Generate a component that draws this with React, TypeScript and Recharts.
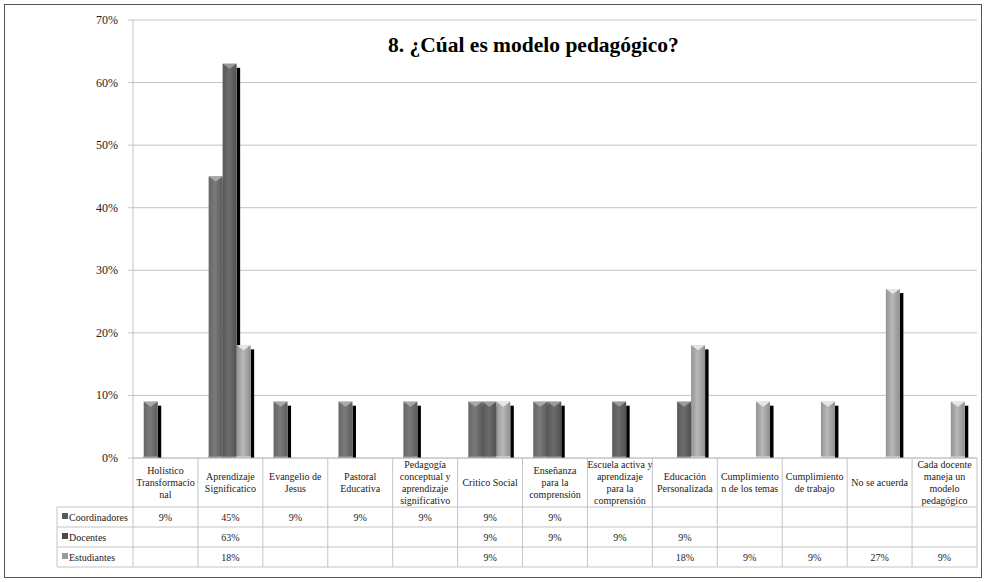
import React from 'react';
import { BarChart, Bar, XAxis, YAxis, CartesianGrid } from 'recharts';

const categories = [
  'Holistico\nTransformacio\nnal',
  'Aprendizaje\nSignificatico',
  'Evangelio de\nJesus',
  'Pastoral\nEducativa',
  'Pedagogía\nconceptual y\naprendizaje\nsignificativo',
  'Critico Social',
  'Enseñanza\npara la\ncomprensión',
  'Escuela activa y\naprendizaje\npara la\ncomprensión',
  'Educación\nPersonalizada',
  'Cumplimiento\nn de los temas',
  'Cumplimiento\nde trabajo',
  'No se acuerda',
  'Cada docente\nmaneja un\nmodelo\npedagógico',
];

const coordinadores: (number | null)[] = [9, 45, 9, 9, 9, 9, 9, null, null, null, null, null, null];
const docentes: (number | null)[] = [null, 63, null, null, null, 9, 9, 9, 9, null, null, null, null];
const estudiantes: (number | null)[] = [null, 18, null, null, null, 9, null, null, 18, 9, 9, 27, 9];

const seriesNames = ['Coordinadores', 'Docentes', 'Estudiantes'];
const seriesValues = [coordinadores, docentes, estudiantes];
const yTicks = [0, 10, 20, 30, 40, 50, 60, 70];
const title = '8. ¿Cúal es modelo pedagógico?';

const data = categories.map((c, i) => ({
  name: c,
  Coordinadores: coordinadores[i],
  Docentes: docentes[i],
  Estudiantes: estudiantes[i],
}));

// layout
const W = 986;
const H = 582;
const PLOT_LEFT = 133;
const PLOT_RIGHT = 977;
const PLOT_TOP = 20;
const PLOT_BOTTOM = 458;
const HEADER_BOTTOM = 507;
const ROW_H = 20;
const LEGEND_LEFT = 57;
const FONT = '"Liberation Serif", "DejaVu Serif", serif';
const LINE = '#c4c4c4';
const TXT = { fontFamily: FONT, fontSize: 10 };

const palettes: Record<string, { l: string; m: string; r: string; top: string; bottom: string; legend: string }> = {
  Coordinadores: { l: '#666666', m: '#7a7a7a', r: '#5c5c5c', top: '#a8a8a8', bottom: '#8a8a8a', legend: '#5a5a5a' },
  Docentes: { l: '#585858', m: '#6c6c6c', r: '#515151', top: '#9a9a9a', bottom: '#7e7e7e', legend: '#4a4a4a' },
  Estudiantes: { l: '#939393', m: '#b8b8b8', r: '#8e8e8e', top: '#e6e6e6', bottom: '#c4c4c4', legend: '#9a9a9a' },
};

const Bar3D = (props: any) => {
  const { x, y, width, height, dataKey, index } = props;
  if (height == null || !(height > 0) || isNaN(y)) return null;
  const p = palettes[dataKey as string];
  const gid = `g-${dataKey}-${index}`;
  return (
    <g>
      <defs>
        <linearGradient id={gid} x1="0" y1="0" x2="1" y2="0">
          <stop offset="0" stopColor={p.l} />
          <stop offset="0.45" stopColor={p.m} />
          <stop offset="1" stopColor={p.r} />
        </linearGradient>
      </defs>
      <rect x={x + width} y={y + 4} width={3.5} height={height - 4} fill="#000" />
      <rect x={x} y={y} width={width} height={height} fill={`url(#${gid})`} />
      <polygon
        points={`${x},${y} ${x + width},${y} ${x + width / 2},${y + 5}`}
        fill={p.top}
      />
      <rect x={x} y={y + height - 2} width={width} height={2} fill={p.bottom} />
    </g>
  );
};

const YTick = (props: any) => {
  const { x, y, payload } = props;
  return (
    <text
      x={x}
      y={y}
      textAnchor="end"
      dominantBaseline="central"
      style={{ fontFamily: FONT, fontSize: 12 }}
      fill="#222"
    >
      {`${payload.value}%`}
    </text>
  );
};

const TableTick = (props: any) => {
  const { x, payload } = props;
  const i: number = payload?.index ?? props.index ?? 0;
  const bw = (PLOT_RIGHT - PLOT_LEFT) / categories.length;
  const left = x - bw / 2;
  const right = x + bw / 2;
  const lines = categories[i].split('\n');
  const lh = 12;
  const headerMid = (PLOT_BOTTOM + HEADER_BOTTOM) / 2;
  const startY = headerMid - ((lines.length - 1) * lh) / 2;
  const tableBottom = HEADER_BOTTOM + ROW_H * 3;
  return (
    <g>
      {i === 0 && (
        <g>
          <line x1={left} y1={PLOT_BOTTOM} x2={left} y2={tableBottom} stroke={LINE} />
          <line x1={LEGEND_LEFT} y1={HEADER_BOTTOM} x2={LEGEND_LEFT} y2={tableBottom} stroke={LINE} />
          {[0, 1, 2, 3].map((r) => (
            <line
              key={r}
              x1={LEGEND_LEFT}
              y1={HEADER_BOTTOM + r * ROW_H}
              x2={left}
              y2={HEADER_BOTTOM + r * ROW_H}
              stroke={LINE}
            />
          ))}
          {seriesNames.map((s, r) => (
            <g key={s}>
              <rect
                x={LEGEND_LEFT + 5}
                y={HEADER_BOTTOM + r * ROW_H + ROW_H / 2 - 4}
                width={6}
                height={6}
                fill={palettes[s].legend}
              />
              <text
                x={LEGEND_LEFT + 12}
                y={HEADER_BOTTOM + r * ROW_H + ROW_H / 2}
                dominantBaseline="central"
                style={TXT}
                fill="#222"
              >
                {s}
              </text>
            </g>
          ))}
        </g>
      )}
      <line x1={right} y1={PLOT_BOTTOM} x2={right} y2={tableBottom} stroke={LINE} />
      {[0, 1, 2, 3].map((r) => (
        <line
          key={r}
          x1={left}
          y1={HEADER_BOTTOM + r * ROW_H}
          x2={right}
          y2={HEADER_BOTTOM + r * ROW_H}
          stroke={LINE}
        />
      ))}
      {lines.map((ln, k) => (
        <text
          key={k}
          x={x}
          y={startY + k * lh}
          textAnchor="middle"
          dominantBaseline="central"
          style={TXT}
          fill="#222"
        >
          {ln}
        </text>
      ))}
      {seriesValues.map((vals, r) =>
        vals[i] != null ? (
          <text
            key={r}
            x={x}
            y={HEADER_BOTTOM + r * ROW_H + ROW_H / 2}
            textAnchor="middle"
            dominantBaseline="central"
            style={TXT}
            fill="#222"
          >
            {`${vals[i]}%`}
          </text>
        ) : null
      )}
    </g>
  );
};

export default function App() {
  return (
    <div style={{ position: 'absolute', left: 0, top: 0, width: W, height: H, background: '#fff', fontFamily: FONT }}>
      <div
        style={{
          position: 'absolute',
          left: 4,
          top: 4,
          width: 976,
          height: 572,
          border: '1px solid #555',
        }}
      />
      <div style={{ position: 'absolute', left: 0, top: 0 }}>
        <BarChart
          width={W}
          height={H}
          data={data}
          margin={{ top: PLOT_TOP, right: W - PLOT_RIGHT, bottom: 14, left: 0 }}
          barCategoryGap="16.5%"
          barGap={0}
          style={{ fontFamily: FONT }}
        >
          <CartesianGrid horizontal vertical={false} stroke={LINE} />
          <YAxis
            width={PLOT_LEFT}
            domain={[0, 70]}
            ticks={yTicks}
            interval={0}
            axisLine={{ stroke: LINE }}
            tickLine={{ stroke: LINE }}
            tickSize={5}
            tickMargin={10}
            tick={<YTick />}
          />
          <XAxis
            dataKey="name"
            height={H - 14 - PLOT_BOTTOM}
            interval={0}
            axisLine={{ stroke: LINE }}
            tickLine={false}
            tick={<TableTick />}
          />
          {seriesNames.map((s) => (
            <Bar key={s} dataKey={s} shape={<Bar3D />} isAnimationActive={false} />
          ))}
        </BarChart>
      </div>
      <div
        style={{
          position: 'absolute',
          left: 388,
          top: 33,
          fontFamily: FONT,
          fontWeight: 'bold',
          fontSize: 21.5,
          color: '#000',
          whiteSpace: 'nowrap',
        }}
      >
        {title}
      </div>
    </div>
  );
}
